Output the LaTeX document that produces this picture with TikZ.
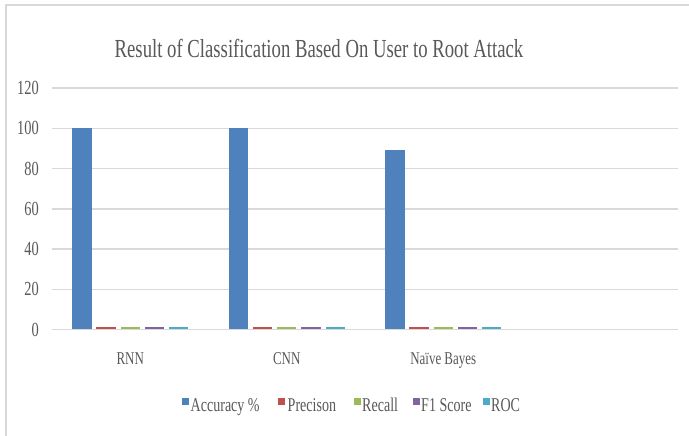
\documentclass[tikz,border=0pt]{standalone}
\usepackage{fontspec}
\setmainfont{Liberation Serif}[FakeStretch=0.72]
\definecolor{txtgray}{HTML}{595959}
\definecolor{gridgray}{HTML}{D9D9D9}
\definecolor{sAcc}{HTML}{4F81BD}
\definecolor{sPre}{HTML}{C0504D}
\definecolor{sRec}{HTML}{9BBB59}
\definecolor{sFone}{HTML}{8064A2}
\definecolor{sRoc}{HTML}{4BACC6}
\tikzset{
  gridline/.style={draw=gridgray, line width=1.5pt},
  ticklabel/.style={text=txtgray, anchor=east, inner sep=0pt, font=\fontsize{20}{20}\selectfont},
  catlabel/.style={text=txtgray, anchor=base, inner sep=0pt, font=\fontsize{18}{18}\selectfont},
  legendtext/.style={text=txtgray, anchor=base west, inner sep=0pt, font=\fontsize{19.5}{19.5}\selectfont},
  legendkey/.style={minimum size=7pt, inner sep=0pt, anchor=center},
}
\begin{document}
\begin{tikzpicture}[x=1pt, y=-1pt]
\useasboundingbox (0,0) rectangle (689,436);
\fill[white] (0,0) rectangle (689,436);
% chart frame
\draw[gridgray, line width=1.2pt] (6,436) -- (6,5) -- (689,5);
% title
\node[text=txtgray, anchor=base, inner sep=0pt, font=\fontsize{26}{26}\selectfont] (title) at (319,58)
  {Result of Classification Based On User to Root Attack};
% value gridlines and axis labels
\foreach \v in {0,20,...,120}{
  \draw[gridline] (52,{329.5-2.0125*\v}) -- (678,{329.5-2.0125*\v});
  \node[ticklabel] (tick\v) at (39,{329.5-2.0125*\v}) {\v};
}
% bars: accuracy, precision, recall, F1, ROC per classifier
\foreach \cat/\acc [count=\i from 0] in {RNN/100, CNN/100, {Naïve Bayes}/89}{
  \pgfmathsetmacro{\cx}{130.25+156.5*\i}
  \foreach \col/\val [count=\k from 0] in {sAcc/\acc, sPre/1, sRec/1, sFone/1, sRoc/1}{
    \pgfmathsetmacro{\bx}{\cx+(\k-2)*24.2-9.65}
    \fill[\col] (\bx,329.5) rectangle ({\bx+19.3},{329.5-2.0125*\val});
  }
  \node[catlabel] (cat\i) at (\cx,364) {\cat};
}
% redraw baseline over bar bottoms
\draw[gridline] (52,329.5) -- (678,329.5);
% legend
\node[legendkey, fill=sAcc] (kAcc) at (185,401.5) {};
\node[legendtext] (lAcc) at (190.5,411) {Accuracy \%};
\node[legendkey, fill=sPre] (kPre) at (281.5,401.5) {};
\node[legendtext] (lPre) at (287.5,411) {Precison};
\node[legendkey, fill=sRec] (kRec) at (357,401.5) {};
\node[legendtext] (lRec) at (362,411) {Recall};
\node[legendkey, fill=sFone] (kFone) at (416,401.5) {};
\node[legendtext] (lFone) at (421,411) {F1 Score};
\node[legendkey, fill=sRoc] (kRoc) at (486,401.5) {};
\node[legendtext] (lRoc) at (491,411) {ROC};
\end{tikzpicture}
\end{document}
